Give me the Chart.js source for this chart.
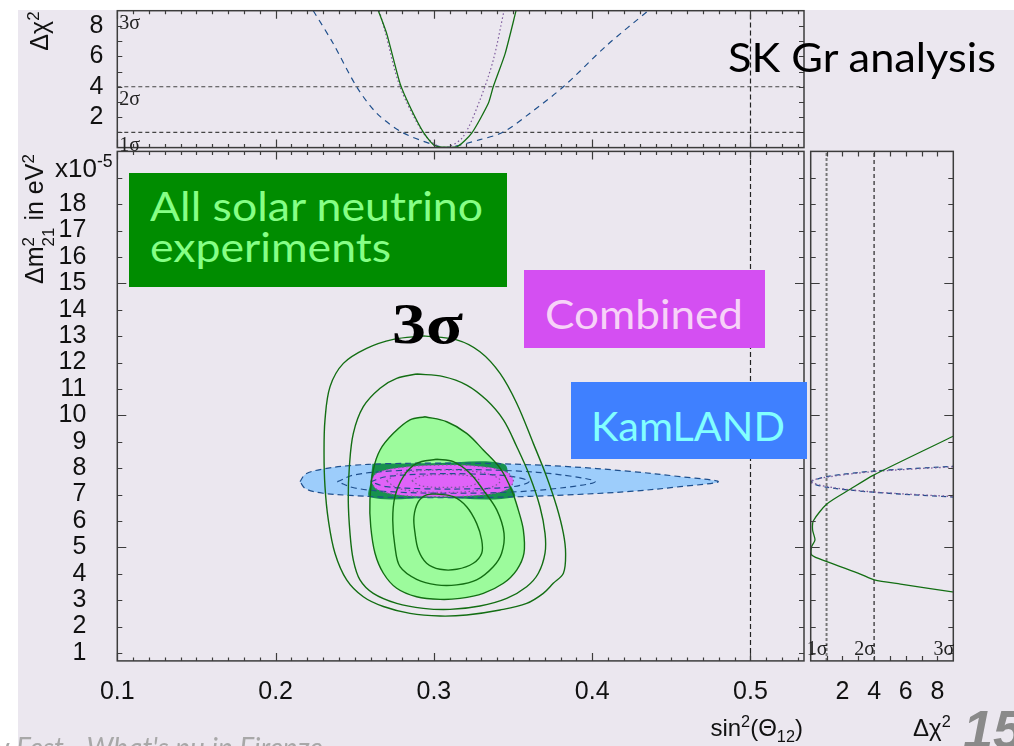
<!DOCTYPE html>
<html>
<head>
<meta charset="utf-8">
<script src="https://cdn.jsdelivr.net/npm/chart.js@4.4.1/dist/chart.umd.min.js"></script>
<style>
  html, body { margin: 0; padding: 0; }
  body { width: 1014px; height: 746px; overflow: hidden; position: relative; background: #fff;
         font-family: 'Liberation Sans', Arial, sans-serif; }
  #slide { position: absolute; left: 18px; top: 10px; width: 996px; height: 736px; background: #ebe7ef; }
  canvas { position: absolute; left: 0; top: 0; }
  .t { position: absolute; white-space: nowrap; color: #111; font-size: 24px; line-height: 24px; }
  .t sup { font-size: 0.68em; vertical-align: 0.55em; line-height: 0; }
  .t sub { font-size: 0.68em; vertical-align: -0.35em; line-height: 0; }
  .rot { transform: translate(-50%, -50%) rotate(-90deg); }
  .ss { display: inline-flex; flex-direction: column; font-size: 0.68em; line-height: 1.15; vertical-align: 0.5em; }
  .box { position: absolute; }
  .lbl { position: absolute; white-space: nowrap; font-family: Lato, 'Open Sans', sans-serif;
         font-size: 40px; line-height: 40px; transform-origin: 0 0; }
</style>
</head>
<body>
<div id="slide"></div>
<canvas id="cMain" width="1014" height="746"></canvas>
<canvas id="cTop" width="1014" height="746"></canvas>
<canvas id="cSide" width="1014" height="746"></canvas>

<!-- axis titles -->
<div class="t rot" style="left:39px;top:31px;font-size:25px">Δχ<sup>2</sup></div>
<div class="t rot" style="left:39px;top:219px;font-size:25px">Δm<span class="ss"><span>2</span><span>21</span></span> in eV<sup>2</sup></div>
<div class="t" style="left:55px;top:155px;font-size:26px;line-height:26px">x10<sup>-5</sup></div>
<div class="t" style="right:211px;top:716px">sin<sup>2</sup>(Θ<sub>12</sub>)</div>
<div class="t" style="left:913px;top:716px">Δχ<sup>2</sup></div>

<!-- annotations -->
<div class="box" style="left:129px;top:173px;width:378px;height:114px;background:#008c00"></div>
<div class="lbl" data-w="333" style="left:150px;top:186px;color:#86ff86">All solar neutrino</div>
<div class="lbl" data-w="241" style="left:150px;top:227px;color:#86ff86">experiments</div>
<div class="box" style="left:524px;top:270px;width:241px;height:78px;background:#d44ff2"></div>
<div class="lbl" data-w="198" style="left:545px;top:294px;color:#f7d2f8">Combined</div>
<div class="box" style="left:571px;top:382px;width:236px;height:77px;background:#3f80ff"></div>
<div class="lbl" data-w="194" style="left:591px;top:406px;color:#82ffff">KamLAND</div>
<div class="lbl" data-w="268" style="left:728px;top:37px;color:#000">SK Gr analysis</div>
<div class="lbl" data-w="71" style="left:392px;top:296px;color:#000;font-family:'Liberation Serif',serif;font-weight:bold;font-size:56px;line-height:56px">3σ</div>
<div class="lbl" style="left:963px;top:702px;color:#8a8a8a;font-family:'Liberation Sans',sans-serif;font-weight:bold;font-style:italic;font-size:54px;line-height:54px">15</div>
<div class="lbl" style="left:-4px;top:733px;color:#a8a8a8;font-style:italic;font-size:28px;line-height:28px">ν Fest - What's nu in Firenze</div>

<script>
// ---------- data ----------
// tick labels
const X_LABELS = [0.1, 0.2, 0.3, 0.4, 0.5];
const Y_LABELS = [1, 2, 3, 4, 5, 6, 7, 8, 9, 10, 11, 12, 13, 14, 15, 16, 17, 18];
const TOP_Y_LABELS = [2, 4, 6, 8];
const SIDE_X_LABELS = [2, 4, 6, 8];
const SIGMA_LEVELS = [1, 4, 9];

// top panel: delta chi2 vs sin2(theta12)
const topSolar = [[0.2649, 9.0], [0.2702, 7.49], [0.2786, 4.22], [0.2849, 2.69], [0.2933, 1.02], [0.3007, 0.12],
  [0.3144, 0.04], [0.3239, 0.95], [0.3344, 2.91], [0.3375, 4.0], [0.3450, 6.18], [0.3519, 9.0]];
const topCombined = [[0.2655, 9.0], [0.2690, 7.7], [0.2786, 4.0], [0.2933, 0.95], [0.3028, 0.08], [0.3091, 0.04],
  [0.3186, 0.73], [0.3291, 3.13], [0.3375, 5.75], [0.3443, 9.0]];
const topKamland = [[0.2238, 9.0], [0.2364, 6.84], [0.2512, 4.0], [0.2639, 2.26], [0.2797, 1.02], [0.2996, 0.19],
  [0.3080, 0.0], [0.3291, 0.52], [0.3438, 1.02], [0.3607, 2.26], [0.3818, 4.0], [0.4092, 6.72], [0.4354, 9.0]];

// side panel: [delta chi2, delta m2]
const sideSolar = [[9.2, 9.27], [3.97, 7.74], [2.49, 7.2], [1.02, 6.64], [0.17, 6.01], [0.12, 5.66], [0.27, 5.28],
  [0.06, 5.03], [0.06, 4.71], [1.02, 4.46], [3.13, 3.99], [4.02, 3.77], [5.67, 3.61], [9.2, 3.29]];
const sideKamland = [[9.2, 8.08], [3.97, 7.89], [1.02, 7.68], [0.0, 7.47], [1.02, 7.28], [3.97, 7.09], [9.2, 6.9]];
const sideCombined = [[9.2, 8.06], [3.97, 7.87], [1.02, 7.66], [0.0, 7.5], [1.02, 7.3], [3.97, 7.1], [9.2, 6.92]];

// main panel contours [sin2, delta m2]
const solar1 = [[0.2933, 13.01], [0.3144, 12.86], [0.3291, 12.41], [0.3418, 11.59], [0.3523, 10.46], [0.3628, 8.94],
  [0.3712, 7.68], [0.3776, 6.54], [0.3818, 5.53], [0.3832, 4.78], [0.3818, 4.02], [0.3754, 3.64], [0.3691, 3.26],
  [0.3586, 2.88], [0.3418, 2.63], [0.3207, 2.44], [0.3039, 2.40], [0.2849, 2.50], [0.2681, 2.76], [0.2554, 3.13],
  [0.2449, 3.77], [0.2375, 4.78], [0.2333, 6.04], [0.2312, 7.30], [0.2306, 8.56], [0.2312, 9.83], [0.2344, 11.09],
  [0.2428, 11.97], [0.2575, 12.54], [0.2744, 12.88], [0.2933, 13.01]];
const solar2 = [[0.2891, 11.57], [0.3060, 11.47], [0.3207, 11.15], [0.3333, 10.58], [0.3439, 9.83], [0.3523, 8.82],
  [0.3607, 7.68], [0.3670, 6.54], [0.3702, 5.53], [0.3702, 4.78], [0.3660, 4.02], [0.3586, 3.51], [0.3460, 3.07],
  [0.3291, 2.78], [0.3102, 2.65], [0.2933, 2.69], [0.2765, 2.88], [0.2617, 3.26], [0.2533, 3.77], [0.2491, 4.52],
  [0.2470, 5.53], [0.2459, 6.80], [0.2466, 8.06], [0.2491, 9.32], [0.2554, 10.33], [0.2660, 11.03], [0.2765, 11.40],
  [0.2891, 11.57]];
const solar3 = [[0.2944, 9.95], [0.3081, 9.76], [0.3207, 9.32], [0.3312, 8.69], [0.3418, 8.00], [0.3491, 7.17],
  [0.3533, 6.42], [0.3565, 5.66], [0.3569, 4.78], [0.3523, 4.14], [0.3439, 3.64], [0.3312, 3.26], [0.3165, 3.07],
  [0.3039, 3.03], [0.2891, 3.13], [0.2765, 3.45], [0.2681, 4.02], [0.2628, 4.78], [0.2601, 5.79], [0.2596, 6.80],
  [0.2617, 7.93], [0.2660, 8.69], [0.2744, 9.32], [0.2849, 9.83], [0.2944, 9.95]];
const solar4 = [[0.3017, 8.34], [0.3123, 8.25], [0.3228, 7.81], [0.3312, 7.17], [0.3397, 6.42], [0.3443, 5.53],
  [0.3428, 4.78], [0.3375, 4.27], [0.3270, 3.77], [0.3144, 3.58], [0.3017, 3.58], [0.2891, 3.79], [0.2786, 4.27],
  [0.2754, 5.03], [0.2740, 6.04], [0.2754, 6.92], [0.2807, 7.68], [0.2891, 8.18], [0.3017, 8.34]];
const solar5 = [[0.3017, 7.02], [0.3123, 6.92], [0.3207, 6.54], [0.3270, 5.91], [0.3302, 5.28], [0.3302, 4.78],
  [0.3249, 4.40], [0.3144, 4.17], [0.3039, 4.17], [0.2954, 4.40], [0.2902, 4.90], [0.2881, 5.53], [0.2874, 6.16],
  [0.2902, 6.73], [0.2954, 6.99], [0.3017, 7.02]];
const kamland3 = [[0.2154, 7.49], [0.2190, 7.78], [0.2300, 7.97], [0.2470, 8.10], [0.2700, 8.17], [0.3000, 8.19],
  [0.3400, 8.17], [0.3818, 8.07], [0.4239, 7.88], [0.4555, 7.68], [0.4797, 7.49], [0.4555, 7.30], [0.4239, 7.12],
  [0.3818, 6.98], [0.3400, 6.90], [0.3000, 6.88], [0.2700, 6.90], [0.2470, 6.97], [0.2300, 7.05], [0.2190, 7.22],
  [0.2154, 7.49]];
const kamland2 = [[0.2390, 7.49], [0.2500, 7.75], [0.2750, 7.90], [0.3100, 7.95], [0.3500, 7.90], [0.3800, 7.75],
  [0.4018, 7.49], [0.3800, 7.25], [0.3500, 7.10], [0.3100, 7.05], [0.2750, 7.10], [0.2500, 7.25], [0.2390, 7.49]];
const kamland1 = [[0.2600, 7.49], [0.2700, 7.68], [0.2950, 7.78], [0.3250, 7.78], [0.3500, 7.68], [0.3600, 7.49],
  [0.3500, 7.30], [0.3250, 7.22], [0.2950, 7.22], [0.2700, 7.30], [0.2600, 7.49]];
const overlapBand = [[0.2612, 8.17], [0.3000, 8.19], [0.3440, 8.17], [0.3475, 7.50], [0.3505, 6.90], [0.3000, 6.88],
  [0.2597, 6.90], [0.2600, 7.50], [0.2612, 8.17]];
const combined3 = [[0.2600, 7.52], [0.2640, 7.82], [0.2780, 8.02], [0.3050, 8.12], [0.3300, 8.06], [0.3460, 7.85],
  [0.3502, 7.52], [0.3460, 7.18], [0.3300, 6.98], [0.3050, 6.92], [0.2780, 6.98], [0.2640, 7.20], [0.2600, 7.52]];
const combined2 = [[0.2700, 7.52], [0.2780, 7.80], [0.3050, 7.93], [0.3320, 7.82], [0.3420, 7.52], [0.3320, 7.20],
  [0.3050, 7.08], [0.2780, 7.22], [0.2700, 7.52]];
const combined1 = [[0.2860, 7.52], [0.2920, 7.70], [0.3070, 7.76], [0.3230, 7.70], [0.3290, 7.52], [0.3230, 7.33],
  [0.3070, 7.27], [0.2920, 7.33], [0.2860, 7.52]];

// ---------- styling ----------
const GREEN = '#136e13';
const BLUE = '#1f4f8c';
const PURPLE = '#7d5a9c';
const FRAME = '#3c3c3c';
const TICK_FONT = { family: 'Liberation Sans', size: 25 };

const MAIN = { left: 117.3, right: 804, top: 151.4, bottom: 660.9 };
const TOP = { left: 117.3, right: 804, top: 10.7, bottom: 147.6 };
const SIDE = { left: 810.7, right: 953.3, top: 151.4, bottom: 660.9 };
const Y_BAND = 95;   // room kept for y tick labels
const X_BAND = 48;   // room kept for x tick labels

function range(a, b, step) {
  const out = [];
  for (let v = a; v <= b + 1e-9; v += step) out.push(+v.toFixed(4));
  return out;
}

function axis(min, max, labels, pad, band) {
  return {
    type: 'linear', min, max,
    grid: { display: false, drawTicks: false },
    border: { display: false },
    afterBuildTicks: (s) => { s.ticks = labels.map((v) => ({ value: v })); },
    afterFit: (s) => {
      if (s.isHorizontal()) s.height = band; else s.width = band;
      s.paddingLeft = s.paddingRight = s.paddingTop = s.paddingBottom = 0;
    },
    ticks: {
      display: labels.length > 0, padding: pad, autoSkip: false, maxRotation: 0, minRotation: 0,
      color: '#111', font: TICK_FONT,
      callback: (v) => String(v),
    },
  };
}

function line(pts, color, width, dash, more) {
  return Object.assign({
    data: pts.map(([x, y]) => ({ x, y })),
    showLine: true, borderColor: color, borderWidth: width, borderDash: dash || [],
    pointRadius: 0, fill: false, tension: 0.35, order: 1,
  }, more);
}

function area(pts, color, order) {
  return line(pts, 'rgba(0,0,0,0)', 0, [], { fill: 'shape', backgroundColor: color, order });
}

// frame with inward ticks and sigma notes
const framePlugin = {
  id: 'frame',
  afterDatasetsDraw(chart, args, o) {
    const { ctx, chartArea: a, scales: { x, y } } = chart;
    ctx.save();
    ctx.strokeStyle = FRAME;
    ctx.lineWidth = 1.2;
    ctx.beginPath();
    (o.xTicks || []).forEach(([vals, len]) => vals.forEach((v) => {
      const p = Math.round(x.getPixelForValue(v)) + 0.5;
      ctx.moveTo(p, a.bottom); ctx.lineTo(p, a.bottom - len);
      ctx.moveTo(p, a.top); ctx.lineTo(p, a.top + len);
    }));
    (o.yTicks || []).forEach(([vals, len]) => vals.forEach((v) => {
      const p = Math.round(y.getPixelForValue(v)) + 0.5;
      ctx.moveTo(a.left, p); ctx.lineTo(a.left + len, p);
      ctx.moveTo(a.right, p); ctx.lineTo(a.right - len, p);
    }));
    ctx.stroke();
    ctx.lineWidth = 1.5;
    ctx.strokeRect(a.left, a.top, a.right - a.left, a.bottom - a.top);
    ctx.fillStyle = '#222';
    ctx.font = '20px "Liberation Serif", serif';
    (o.notes || []).forEach((n) => {
      const px = n.x != null ? x.getPixelForValue(n.x) : a.left;
      const py = n.y != null ? y.getPixelForValue(n.y) : a.bottom;
      ctx.textAlign = n.align;
      ctx.textBaseline = n.base;
      ctx.fillText(n.t, px + n.dx, py + n.dy);
    });
    ctx.restore();
  },
};

function baseOptions(box, xs, ys, frame) {
  const yw = ys.ticks.display ? Y_BAND : 0;
  const xh = xs.ticks.display ? X_BAND : 0;
  return {
    responsive: false, animation: false, events: [], devicePixelRatio: 1,
    layout: { padding: { left: box.left - yw, top: box.top, right: 1014 - box.right, bottom: 746 - box.bottom - xh } },
    plugins: { legend: { display: false }, tooltip: { enabled: false }, frame },
    scales: { x: xs, y: ys },
  };
}

const xMinor = range(0.1, 0.53, 0.01);
const yMinor = range(1, 19, 1);

// ---------- main panel ----------
new Chart(document.getElementById('cMain'), {
  type: 'scatter',
  data: {
    datasets: [
      area(kamland3, '#9dcdfb', 9),
      area(solar3, '#9cfb9c', 8),
      area(overlapBand, '#17914f', 7),
      area(combined3, '#e063f8', 6),
      line(kamland3, BLUE, 1.2, [6, 4], { order: 3 }),
      line(kamland2, BLUE, 1.2, [6, 4], { order: 3 }),
      line(kamland1, BLUE, 1.2, [6, 4], { order: 3 }),
      line(combined3, PURPLE, 1.2, [1.5, 2.5], { order: 2 }),
      line(combined2, PURPLE, 1.2, [1.5, 2.5], { order: 2 }),
      line(combined1, PURPLE, 1.2, [1.5, 2.5], { order: 2 }),
      line(solar1, GREEN, 1.4),
      line(solar2, GREEN, 1.4),
      line(solar3, GREEN, 1.4),
      line(solar4, GREEN, 1.4),
      line(solar5, GREEN, 1.4),
      line([[0.5, 0.7], [0.5, 20]], '#222', 1.2, [5, 3], { tension: 0, order: 0 }),
    ],
  },
  options: baseOptions(MAIN, axis(0.1, 0.5338, X_LABELS, 16, X_BAND), axis(0.7, 20, Y_LABELS, 31, Y_BAND), {
    xTicks: [[xMinor, 3.5], [X_LABELS, 8]],
    yTicks: [[yMinor, 5], [[5, 10, 15], 9]],
  }),
  plugins: [framePlugin],
});

// ---------- top panel ----------
new Chart(document.getElementById('cTop'), {
  type: 'scatter',
  data: {
    datasets: [
      line([[0.1, SIGMA_LEVELS[0]], [0.5338, SIGMA_LEVELS[0]]], '#444', 1.2, [4, 3], { tension: 0, order: 4 }),
      line([[0.1, SIGMA_LEVELS[1]], [0.5338, SIGMA_LEVELS[1]]], '#444', 1.2, [4, 3], { tension: 0, order: 4 }),
      line([[0.5, 0], [0.5, 9]], '#222', 1.2, [5, 3], { tension: 0, order: 4 }),
      line(topKamland, BLUE, 1.2, [6, 5], { tension: 0.3, order: 3 }),
      line(topCombined, PURPLE, 1.2, [1.5, 2.5], { tension: 0.3, order: 2 }),
      line(topSolar, GREEN, 1.3, [], { tension: 0.2 }),
    ],
  },
  options: baseOptions(TOP, axis(0.1, 0.5338, [], 0, 0), axis(0, 9, TOP_Y_LABELS, 14, Y_BAND), {
    xTicks: [[xMinor, 3.5], [X_LABELS, 8]],
    yTicks: [[range(1, 8, 1), 5]],
    notes: [
      { t: '3σ', y: SIGMA_LEVELS[2], dx: 2, dy: 3, align: 'left', base: 'top' },
      { t: '2σ', y: SIGMA_LEVELS[1], dx: 2, dy: 3, align: 'left', base: 'top' },
      { t: '1σ', y: SIGMA_LEVELS[0], dx: 2, dy: 3, align: 'left', base: 'top' },
    ],
  }),
  plugins: [framePlugin],
});

// ---------- side panel ----------
new Chart(document.getElementById('cSide'), {
  type: 'scatter',
  data: {
    datasets: [
      line([[SIGMA_LEVELS[0], 0.7], [SIGMA_LEVELS[0], 20]], '#777', 2, [3, 2], { tension: 0, order: 4 }),
      line([[SIGMA_LEVELS[1], 0.7], [SIGMA_LEVELS[1], 20]], '#111', 1.1, [4, 3], { tension: 0, order: 4 }),
      line(sideKamland, BLUE, 1.3, [5, 4], { tension: 0.3, order: 3 }),
      line(sideCombined, PURPLE, 1.3, [1.5, 2.5], { tension: 0.3, order: 2 }),
      line(sideSolar, GREEN, 1.3, [], { tension: 0.25 }),
    ],
  },
  options: baseOptions(SIDE, axis(0, 9, SIDE_X_LABELS, 16, X_BAND), axis(0.7, 20, [], 0, 0), {
    xTicks: [[range(1, 8, 1), 5]],
    yTicks: [[yMinor, 5], [[5, 10, 15], 9]],
    notes: SIGMA_LEVELS.map((v, i) => ({ t: (i + 1) + 'σ', x: v, dx: 1, dy: -1, align: 'right', base: 'bottom' })),
  }),
  plugins: [framePlugin],
});

// squeeze annotation texts to the widths seen on the slide
function fitLabels() {
  document.querySelectorAll('.lbl[data-w]').forEach((el) => {
    el.style.transform = 'none';
    const w = el.getBoundingClientRect().width;
    el.style.transform = `scaleX(${(+el.dataset.w / w).toFixed(4)})`;
  });
}
fitLabels();
if (document.fonts && document.fonts.ready) document.fonts.ready.then(fitLabels);
</script>
</body>
</html>
